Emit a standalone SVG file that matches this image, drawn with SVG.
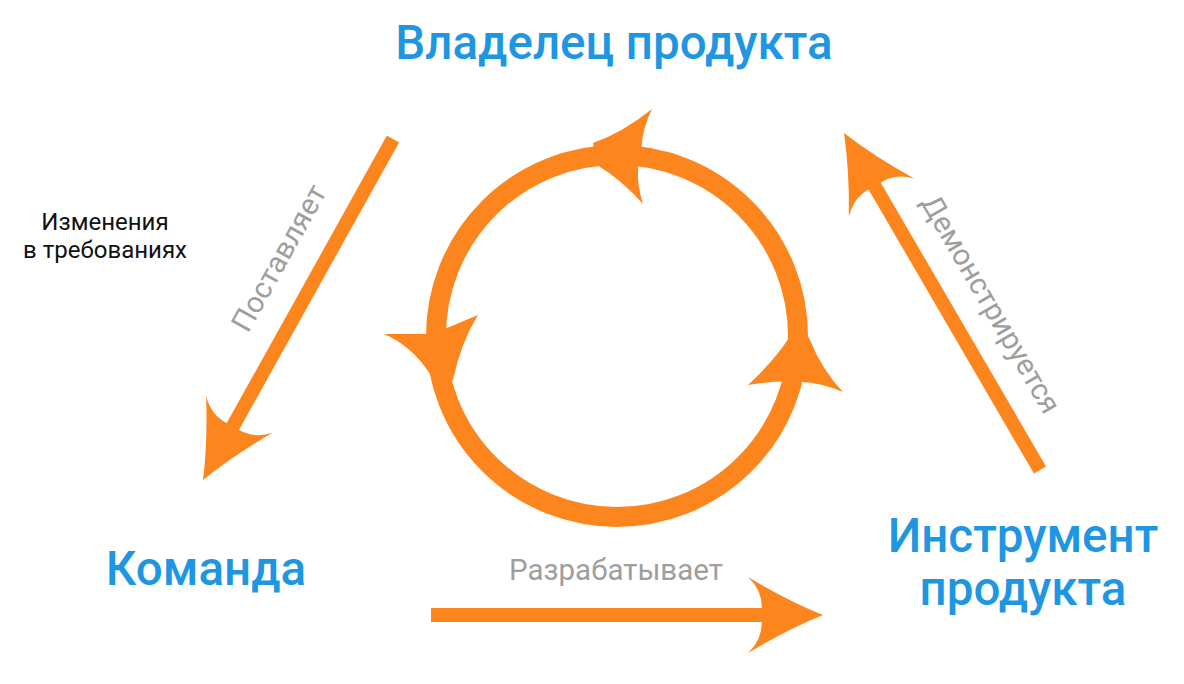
<svg xmlns="http://www.w3.org/2000/svg" width="1184" height="684" viewBox="0 0 1184 684">
<style>
.ln{stroke:#fd851e;stroke-width:14;fill:none}
.hd{fill:#fd851e}
.ttl{font-family:Roboto,"Liberation Sans",sans-serif;font-weight:500;font-size:47.5px;fill:#1e96e1}
.lbl{font-family:Roboto,"Liberation Sans",sans-serif;font-size:29.5px;fill:#9e9e9e}
.note{font-family:Roboto,"Liberation Sans",sans-serif;font-size:24px;fill:#111}
</style>
<defs>
<path id="ah" d="M0,0 Q-35,-14 -75,-38 Q-58,-22 -62,0 Q-58,22 -75,38 Q-35,14 0,0 Z"/>
</defs>
<rect width="1184" height="684" fill="#fff"/>
<g id="cycle">
<circle cx="617" cy="336" r="181" fill="none" stroke="#fd851e" stroke-width="20"/>
<path class="hd" d="M593,143 Q622,133 652,109 Q643,126 641,150 L638,168 Q637,186 643,204 Q622,180 597,165 Z"/>
<path class="hd" d="M384,334 L426,334 L447,328 L478,315 Q461,342 453,380 L444,395 L430,374 Q412,346 384,334 Z"/>
<path class="hd" d="M748,385 Q773,362 789,338 L798,318 L810,340 Q822,370 843,392 Q822,383 803,382 Q775,380 748,385 Z"/>
</g>
<g id="connectors">
<line class="ln" x1="393" y1="139" x2="232" y2="428"/>
<use href="#ah" class="hd" transform="translate(203,480) rotate(119)"/>
<line class="ln" x1="1040" y1="470" x2="874" y2="185"/>
<use href="#ah" class="hd" transform="translate(844,133) rotate(-120.2)"/>
<line class="ln" x1="431" y1="615" x2="770" y2="615"/>
<use href="#ah" class="hd" transform="translate(823,615)"/>
</g>
<g id="owner"><text class="ttl" x="614" y="59" text-anchor="middle">Владелец продукта</text></g>
<g id="team"><text class="ttl" x="206" y="585" text-anchor="middle">Команда</text></g>
<g id="tool"><text class="ttl" x="1023" y="552" text-anchor="middle">Инструмент</text><text class="ttl" x="1023" y="605" text-anchor="middle">продукта</text></g>
<g id="labels">
<text class="lbl" x="616" y="580" text-anchor="middle">Разрабатывает</text>
<text class="lbl" text-anchor="middle" transform="translate(279,258) rotate(-60.9)" x="0" y="10">Поставляет</text>
<text class="lbl" text-anchor="middle" transform="translate(991,304) rotate(59.8)" x="0" y="10">Демонстрируется</text>
<text class="note" x="105" y="230" text-anchor="middle">Изменения</text>
<text class="note" x="105" y="258" text-anchor="middle">в требованиях</text>
</g>
</svg>
